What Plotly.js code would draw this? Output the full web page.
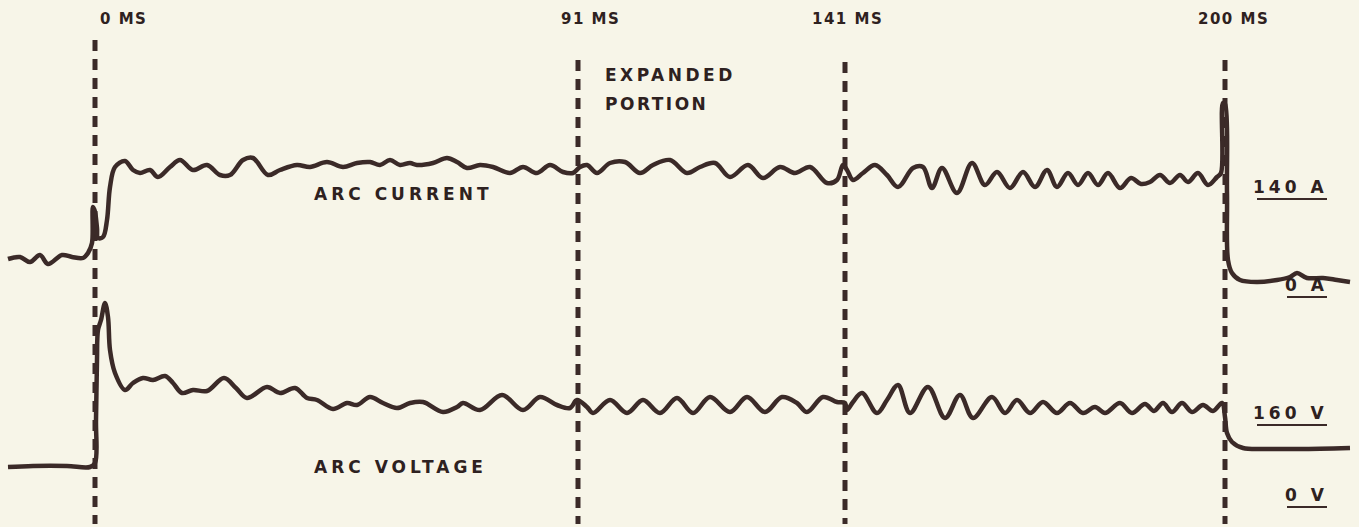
<!DOCTYPE html>
<html><head><meta charset="utf-8">
<script src="https://cdn.plot.ly/plotly-3.0.1.min.js"></script>
<style>html,body{margin:0;padding:0;background:#f7f5e8;}#chart{width:1359px;height:527px;}</style>
</head><body><div id="chart"></div>
<script>
// Sweep position (horizontal, screen units) and trace deflection (vertical, screen units, downward)
const currentX = [8,20,30,40,48,62,72,83,88,92,93,95,97,98,103,107,110,115,125,133,140,150,158,170,180,193,207,220,230,243,253,268,280,297,310,327,343,357,370,380,390,400,410,417,433,447,457,467,480,493,510,523,537,550,563,573,580,587,597,610,625,640,653,670,687,700,715,730,748,763,780,795,810,827,837,843,847,853,863,875,887,898,913,923,932,942,957,972,985,997,1010,1023,1035,1047,1057,1068,1078,1088,1098,1108,1120,1131,1141,1150,1160,1170,1180,1188,1198,1208,1217,1221,1223,1225,1227,1228,1232,1240,1257,1277,1290,1297,1307,1323,1337,1350];
const currentY = [259,257,262,255,264,255,257,258,253,243,207,212,228,238,237,220,187,167,161,170,173,170,177,167,160,170,165,175,175,160,158,175,170,165,167,162,167,163,162,165,160,165,163,165,163,158,162,168,165,167,173,167,173,165,172,173,167,165,173,163,162,173,165,160,173,167,163,177,165,178,167,173,167,183,180,165,170,180,173,165,175,187,168,167,188,168,193,163,185,172,188,172,187,170,187,173,185,173,185,173,188,178,184,182,175,183,175,182,173,185,177,173,103,104,193,260,273,280,282,280,277,273,278,278,280,282];
const voltageX = [8,33,67,90,95,96,97,98,101,105,108,110,115,125,133,143,153,165,173,182,193,207,224,236,247,267,280,295,307,317,333,347,357,370,383,397,410,423,443,457,463,480,502,523,540,557,570,577,587,593,610,627,643,660,677,693,710,730,747,765,782,797,807,823,837,845,847,853,862,877,887,898,910,928,945,960,973,992,1005,1017,1030,1043,1057,1070,1083,1095,1105,1120,1132,1145,1154,1163,1172,1182,1192,1203,1213,1222,1225,1227,1232,1243,1267,1300,1350];
const voltageY = [467,466,466,467,463,420,360,330,320,303,317,350,373,390,383,378,380,376,383,393,390,391,378,388,398,387,393,388,398,400,409,403,405,397,403,408,403,402,412,407,403,410,395,410,397,405,408,400,407,413,400,413,400,413,398,413,397,412,397,412,397,403,412,397,402,403,410,402,393,413,400,385,413,387,418,395,418,397,413,400,413,402,413,403,413,407,413,403,413,404,411,403,412,403,412,405,411,403,417,433,442,448,449,449,448];
const markerPos = [95,578,845,1225];
const markerLabels = ['0 MS','91 MS','141 MS','200 MS'];
const scaleLabels = ['140 A','0 A','160 V','0 V'];
const scaleLevels = [187,285,413,495];

const INK = '#3b2a28';
const traceStyle = {type:'scatter',mode:'lines',line:{color:INK,width:4.5,shape:'spline',smoothing:1},hoverinfo:'skip',showlegend:false};
const data = [
  Object.assign({x:currentX,y:currentY,name:'ARC CURRENT'},traceStyle),
  Object.assign({x:voltageX,y:voltageY,name:'ARC VOLTAGE'},traceStyle)
];
const markerTops = [40,60,62,60];
const shapes = markerPos.map((p,i)=>({type:'line',xref:'x',yref:'y',x0:p,x1:p,y0:markerTops[i],y1:524,layer:'below',line:{color:INK,width:5,dash:'11px,8px'}}));
const sp = (t,s) => '<span style="letter-spacing:'+s+'px">'+t+'</span>';
const font = {family:'DejaVu Sans, sans-serif',size:17,color:'#2e2120',weight:'bold'};
const mfont = Object.assign({},font,{size:15});
const annotations = [];
const labelCenters = [123,590,847,1233];
markerLabels.forEach((t,i)=>annotations.push({x:labelCenters[i],y:19,xref:'x',yref:'y',text:'<b>'+sp(t,1.5)+'</b>',showarrow:false,xanchor:'center',yanchor:'middle',font:mfont}));
annotations.push({x:603,y:75,xref:'x',yref:'y',text:'<b>'+sp('EXPANDED',3.5)+'</b>',showarrow:false,xanchor:'left',yanchor:'middle',font:font});
annotations.push({x:603,y:104,xref:'x',yref:'y',text:'<b>'+sp('PORTION',2.5)+'</b>',showarrow:false,xanchor:'left',yanchor:'middle',font:font});
annotations.push({x:312,y:194,xref:'x',yref:'y',text:'<b>'+sp('ARC CURRENT',4)+'</b>',showarrow:false,xanchor:'left',yanchor:'middle',font:font});
annotations.push({x:312,y:467,xref:'x',yref:'y',text:'<b>'+sp('ARC VOLTAGE',4)+'</b>',showarrow:false,xanchor:'left',yanchor:'middle',font:font});
const scaleRight = 1327;
const underlineLeft = [1257,1287,1257,1287];
scaleLabels.forEach((t,i)=>{
  annotations.push({x:scaleRight+3,y:scaleLevels[i],xref:'x',yref:'y',text:'<b>'+sp(t,4)+'</b>',showarrow:false,xanchor:'right',yanchor:'middle',font:font});
  shapes.push({type:'line',xref:'x',yref:'y',x0:underlineLeft[i],x1:scaleRight,y0:scaleLevels[i]+12,y1:scaleLevels[i]+12,line:{color:INK,width:2}});
});
const layout = {
  width:1359,height:527,margin:{l:0,r:0,t:0,b:0},
  paper_bgcolor:'#f7f5e8',plot_bgcolor:'#f7f5e8',
  xaxis:{range:[0,1359],visible:false,fixedrange:true},
  yaxis:{range:[527,0],visible:false,fixedrange:true},
  shapes:shapes,annotations:annotations,showlegend:false
};
Plotly.newPlot('chart',data,layout,{staticPlot:true,displayModeBar:false});
</script></body></html>
